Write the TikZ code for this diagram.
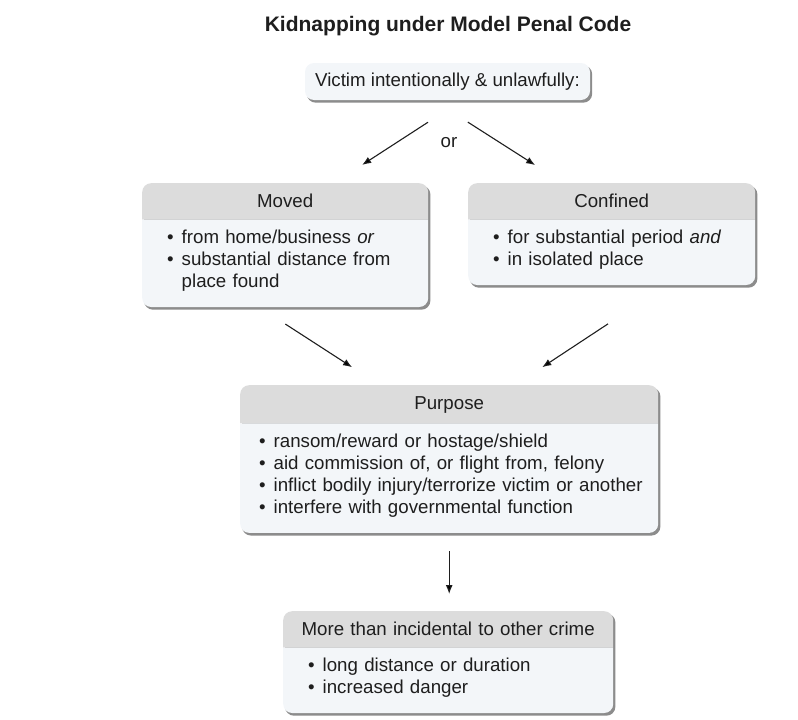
\documentclass[tikz,border=0pt]{standalone}
\usepackage{fontspec}
\setmainfont{Liberation Sans}
\usepackage{xcolor}
\usetikzlibrary{shapes.multipart,backgrounds,arrows.meta}
\definecolor{headgray}{HTML}{DCDCDC}
\definecolor{bodyblue}{HTML}{F3F6F9}
\definecolor{inkgray}{HTML}{1E1E1E}
\definecolor{shadowgray}{HTML}{8C8C8C}
\newcommand\bul{\makebox[14.5pt][l]{\textbullet}}
\newcommand\gap{\hspace*{14.5pt}}
\newcommand\topstrut{\rule{0pt}{14pt}}
\newcommand\botstrut{\rule[-9pt]{0pt}{0pt}}
\newcommand\headstrut{\rule[-2pt]{0pt}{16pt}}
\newcommand\head[1]{\makebox[\linewidth]{\headstrut #1}}

\begin{document}
\begin{tikzpicture}[x=1pt,y=-1pt,
font=\fontsize{18.7}{22}\selectfont,text=inkgray,
card/.style={rectangle split,rectangle split parts=2,
  rectangle split part align={center,left},
  rectangle split part fill={headgray,bodyblue},
  rounded corners=9pt,inner ysep=10pt,inner xsep=#1,anchor=north west},
shadowbox/.style={fill=shadowgray,rounded corners=9pt},
arr/.style={-{Latex[length=9pt,width=7pt]},line width=1.1pt,draw=inkgray}
]
\useasboundingbox (0,0) rectangle (798,720);

\node[font=\bfseries\fontsize{21}{24}\selectfont] (title) at (448,26) {Kidnapping under Model Penal Code};

\node[fill=bodyblue,rounded corners=9pt,minimum width=285pt,minimum height=37pt,inner sep=0pt] (victim) at (447.5,81.5) {Victim intentionally \& unlawfully:};
\node (or) at (449,143) {or};

\node[card=25pt,text width=236pt] (moved) at (142,183) {\head{Moved}
\nodepart{two}\topstrut\bul from home/business \emph{or}\\
\bul substantial distance from\\
\gap place found\botstrut};

\node[card=25pt,text width=237pt] (confined) at (468,183) {\head{Confined}
\nodepart{two}\topstrut\bul for substantial period \emph{and}\\
\bul in isolated place\botstrut};

\node[card=19pt,text width=380pt] (purpose) at (240,385) {\head{Purpose}
\nodepart{two}\topstrut\bul ransom/reward or hostage/shield\\
\bul aid commission of, or flight from, felony\\
\mbox{\bul inflict bodily injury/terrorize victim or another}\\
\bul interfere with governmental function\botstrut};

\node[card=25pt,text width=280pt] (more) at (283,611) {\head{More than incidental to other crime}
\nodepart{two}\topstrut\bul long distance or duration\\
\bul increased danger\botstrut};

\begin{scope}[on background layer]
\foreach \n in {victim,moved,confined,purpose,more}
  \fill[shadowbox] ([xshift=2pt,yshift=-2.5pt]\n.south west) rectangle ([xshift=2pt,yshift=-2.5pt]\n.north east);
\end{scope}

\draw[arr,shorten <=40.5pt,shorten >=33.3pt] ([xshift=14.5pt]victim.south) -- ([xshift=49pt]moved.north);
\draw[arr,shorten <=40.7pt,shorten >=33.3pt] ([xshift=-14pt]victim.south) -- ([xshift=-48.5pt]confined.north);
\draw[arr,shorten <=31pt,shorten >=32.8pt] ([xshift=-25.9pt]moved.south) -- ([xshift=-69.6pt]purpose.north);
\draw[arr,shorten <=70.3pt,shorten >=32.4pt] ([xshift=55pt]confined.south) -- ([xshift=66pt]purpose.north);
\draw[arr,shorten <=18pt,shorten >=17pt] (purpose.south) -- (purpose.south |- more.north);
\end{tikzpicture}
\end{document}
